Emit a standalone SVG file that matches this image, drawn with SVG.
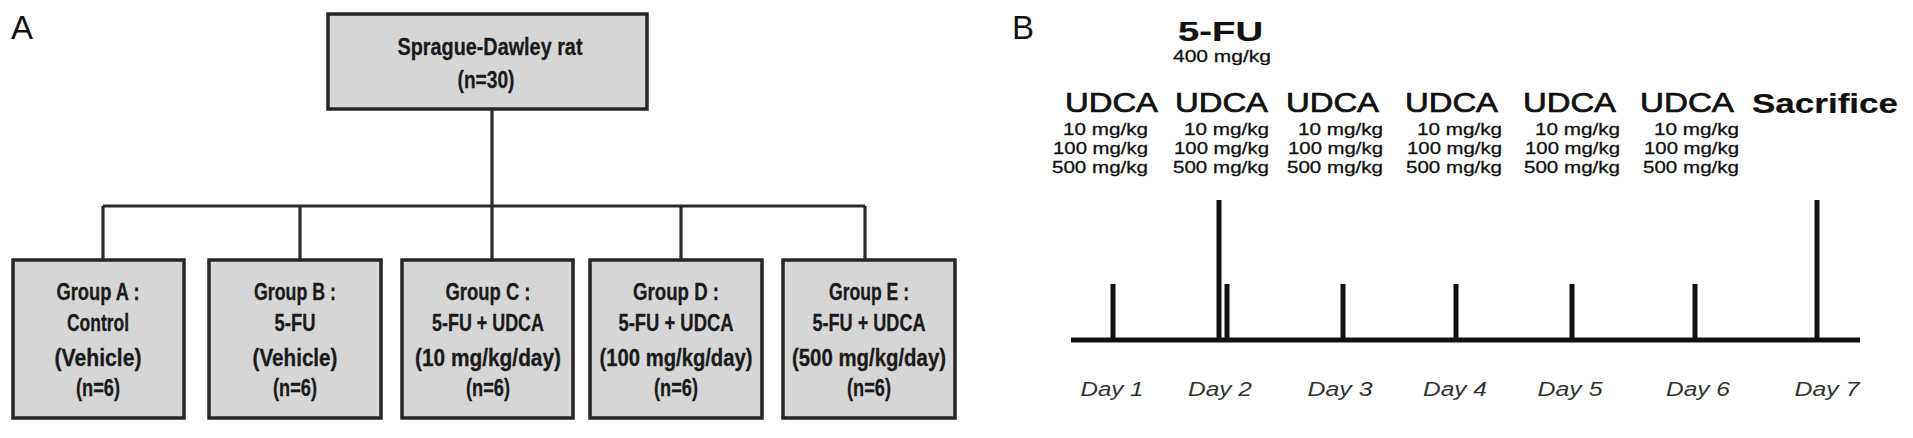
<svg xmlns="http://www.w3.org/2000/svg" width="1913" height="438" viewBox="0 0 1913 438">
<style>
.bg{fill:#ffffff}
.box{fill:#d6d6d6;stroke:#262626;stroke-width:3.5}
.conn{stroke:#2a2a2a;stroke-width:3.2;fill:none}
.ta{font-family:"Liberation Sans",Arial,sans-serif;font-weight:bold;font-size:23px;fill:#1a1a1a;stroke:#1a1a1a;stroke-width:0.3;text-anchor:middle}
.panel{font-family:"Liberation Sans",Arial,sans-serif;font-size:33px;fill:#111}
.big{font-family:"Liberation Sans",Arial,sans-serif;font-size:27px;fill:#111;stroke:#111;stroke-width:0.7}
.bold{font-weight:bold;stroke-width:0.2}
.dose{font-family:"Liberation Sans",Arial,sans-serif;font-size:17px;fill:#111;stroke:#111;stroke-width:0.3}
.day{font-family:"Liberation Sans",Arial,sans-serif;font-size:20px;font-style:italic;fill:#333;text-anchor:middle}
.axis{stroke:#111;stroke-width:5;fill:none}
.tick{stroke:#111;stroke-width:5;fill:none}
</style>
<rect class="bg" x="0" y="0" width="1913" height="438"/>

<text class="panel" x="11" y="39">A</text>
<text class="panel" x="1012" y="39">B</text>

<g id="connectors">
  <line class="conn" x1="492" y1="109" x2="492" y2="206"/>
  <line class="conn" x1="103" y1="206" x2="865" y2="206"/>
  <line class="conn" x1="103" y1="206" x2="103" y2="260"/>
  <line class="conn" x1="300" y1="206" x2="300" y2="260"/>
  <line class="conn" x1="492" y1="206" x2="492" y2="260"/>
  <line class="conn" x1="681" y1="206" x2="681" y2="260"/>
  <line class="conn" x1="865" y1="206" x2="865" y2="260"/>
</g>

<g id="node-root">
  <rect class="box" x="328" y="14" width="319" height="95"/>
  <text class="ta" x="490" y="55" textLength="185" lengthAdjust="spacingAndGlyphs">Sprague-Dawley rat</text>
  <text class="ta" x="486" y="88" textLength="57" lengthAdjust="spacingAndGlyphs">(n=30)</text>
</g>

<g id="node-groupA">
  <rect class="box" x="13" y="260" width="171" height="158"/>
  <text class="ta" x="98" y="300" textLength="83" lengthAdjust="spacingAndGlyphs">Group A :</text>
  <text class="ta" x="98" y="331" textLength="62" lengthAdjust="spacingAndGlyphs">Control</text>
  <text class="ta" x="98" y="366" textLength="87" lengthAdjust="spacingAndGlyphs">(Vehicle)</text>
  <text class="ta" x="98" y="396" textLength="44" lengthAdjust="spacingAndGlyphs">(n=6)</text>
</g>

<g id="node-groupB">
  <rect class="box" x="209" y="260" width="172" height="158"/>
  <text class="ta" x="295" y="300" textLength="82" lengthAdjust="spacingAndGlyphs">Group B :</text>
  <text class="ta" x="295" y="331" textLength="41" lengthAdjust="spacingAndGlyphs">5-FU</text>
  <text class="ta" x="295" y="366" textLength="85" lengthAdjust="spacingAndGlyphs">(Vehicle)</text>
  <text class="ta" x="295" y="396" textLength="44" lengthAdjust="spacingAndGlyphs">(n=6)</text>
</g>

<g id="node-groupC">
  <rect class="box" x="402" y="260" width="171" height="158"/>
  <text class="ta" x="488" y="300" textLength="85" lengthAdjust="spacingAndGlyphs">Group C :</text>
  <text class="ta" x="488" y="331" textLength="112" lengthAdjust="spacingAndGlyphs">5-FU + UDCA</text>
  <text class="ta" x="488" y="366" textLength="146" lengthAdjust="spacingAndGlyphs">(10 mg/kg/day)</text>
  <text class="ta" x="488" y="396" textLength="44" lengthAdjust="spacingAndGlyphs">(n=6)</text>
</g>

<g id="node-groupD">
  <rect class="box" x="590" y="260" width="172" height="158"/>
  <text class="ta" x="676" y="300" textLength="86" lengthAdjust="spacingAndGlyphs">Group D :</text>
  <text class="ta" x="676" y="331" textLength="115" lengthAdjust="spacingAndGlyphs">5-FU + UDCA</text>
  <text class="ta" x="676" y="366" textLength="153" lengthAdjust="spacingAndGlyphs">(100 mg/kg/day)</text>
  <text class="ta" x="676" y="396" textLength="44" lengthAdjust="spacingAndGlyphs">(n=6)</text>
</g>

<g id="node-groupE">
  <rect class="box" x="783" y="260" width="172" height="158"/>
  <text class="ta" x="869" y="300" textLength="80" lengthAdjust="spacingAndGlyphs">Group E :</text>
  <text class="ta" x="869" y="331" textLength="113" lengthAdjust="spacingAndGlyphs">5-FU + UDCA</text>
  <text class="ta" x="869" y="366" textLength="154" lengthAdjust="spacingAndGlyphs">(500 mg/kg/day)</text>
  <text class="ta" x="869" y="396" textLength="44" lengthAdjust="spacingAndGlyphs">(n=6)</text>
</g>

<g id="timeline">
  <line class="axis" x1="1071" y1="340" x2="1860" y2="340"/>
  <line class="tick" x1="1113" y1="284" x2="1113" y2="340"/>
  <line class="tick" x1="1219" y1="200" x2="1219" y2="340"/>
  <line class="tick" x1="1227" y1="284" x2="1227" y2="340"/>
  <line class="tick" x1="1343" y1="284" x2="1343" y2="340"/>
  <line class="tick" x1="1456" y1="284" x2="1456" y2="340"/>
  <line class="tick" x1="1572" y1="284" x2="1572" y2="340"/>
  <line class="tick" x1="1695" y1="284" x2="1695" y2="340"/>
  <line class="tick" x1="1817" y1="200" x2="1817" y2="340"/>
</g>

<g id="labels-top">
  <text class="big bold" x="1178" y="41" font-size="32" textLength="85" lengthAdjust="spacingAndGlyphs">5-FU</text>
  <text class="dose" x="1173" y="62" textLength="98" lengthAdjust="spacingAndGlyphs">400 mg/kg</text>
  <text class="big" x="1065" y="112" textLength="93" lengthAdjust="spacingAndGlyphs">UDCA</text>
  <text class="big" x="1175" y="112" textLength="93" lengthAdjust="spacingAndGlyphs">UDCA</text>
  <text class="big" x="1286" y="112" textLength="93" lengthAdjust="spacingAndGlyphs">UDCA</text>
  <text class="big" x="1405" y="112" textLength="93" lengthAdjust="spacingAndGlyphs">UDCA</text>
  <text class="big" x="1523" y="112" textLength="93" lengthAdjust="spacingAndGlyphs">UDCA</text>
  <text class="big" x="1640" y="112" textLength="94" lengthAdjust="spacingAndGlyphs">UDCA</text>
  <text class="big bold" x="1752" y="113" textLength="146" lengthAdjust="spacingAndGlyphs">Sacrifice</text>
</g>

<g id="doses">
  <text class="dose" x="1063" y="135" textLength="85" lengthAdjust="spacingAndGlyphs">10 mg/kg</text>
  <text class="dose" x="1053" y="154" textLength="95" lengthAdjust="spacingAndGlyphs">100 mg/kg</text>
  <text class="dose" x="1052" y="173" textLength="96" lengthAdjust="spacingAndGlyphs">500 mg/kg</text>

  <text class="dose" x="1184" y="135" textLength="85" lengthAdjust="spacingAndGlyphs">10 mg/kg</text>
  <text class="dose" x="1174" y="154" textLength="95" lengthAdjust="spacingAndGlyphs">100 mg/kg</text>
  <text class="dose" x="1173" y="173" textLength="96" lengthAdjust="spacingAndGlyphs">500 mg/kg</text>

  <text class="dose" x="1298" y="135" textLength="85" lengthAdjust="spacingAndGlyphs">10 mg/kg</text>
  <text class="dose" x="1288" y="154" textLength="95" lengthAdjust="spacingAndGlyphs">100 mg/kg</text>
  <text class="dose" x="1287" y="173" textLength="96" lengthAdjust="spacingAndGlyphs">500 mg/kg</text>

  <text class="dose" x="1417" y="135" textLength="85" lengthAdjust="spacingAndGlyphs">10 mg/kg</text>
  <text class="dose" x="1407" y="154" textLength="95" lengthAdjust="spacingAndGlyphs">100 mg/kg</text>
  <text class="dose" x="1406" y="173" textLength="96" lengthAdjust="spacingAndGlyphs">500 mg/kg</text>

  <text class="dose" x="1535" y="135" textLength="85" lengthAdjust="spacingAndGlyphs">10 mg/kg</text>
  <text class="dose" x="1525" y="154" textLength="95" lengthAdjust="spacingAndGlyphs">100 mg/kg</text>
  <text class="dose" x="1524" y="173" textLength="96" lengthAdjust="spacingAndGlyphs">500 mg/kg</text>

  <text class="dose" x="1654" y="135" textLength="85" lengthAdjust="spacingAndGlyphs">10 mg/kg</text>
  <text class="dose" x="1644" y="154" textLength="95" lengthAdjust="spacingAndGlyphs">100 mg/kg</text>
  <text class="dose" x="1643" y="173" textLength="96" lengthAdjust="spacingAndGlyphs">500 mg/kg</text>
</g>

<g id="days">
  <text class="day" x="1112" y="396" textLength="63" lengthAdjust="spacingAndGlyphs">Day 1</text>
  <text class="day" x="1220" y="396" textLength="64" lengthAdjust="spacingAndGlyphs">Day 2</text>
  <text class="day" x="1340" y="396" textLength="65" lengthAdjust="spacingAndGlyphs">Day 3</text>
  <text class="day" x="1455" y="396" textLength="64" lengthAdjust="spacingAndGlyphs">Day 4</text>
  <text class="day" x="1570" y="396" textLength="65" lengthAdjust="spacingAndGlyphs">Day 5</text>
  <text class="day" x="1698" y="396" textLength="64" lengthAdjust="spacingAndGlyphs">Day 6</text>
  <text class="day" x="1827" y="396" textLength="65" lengthAdjust="spacingAndGlyphs">Day 7</text>
</g>
</svg>
